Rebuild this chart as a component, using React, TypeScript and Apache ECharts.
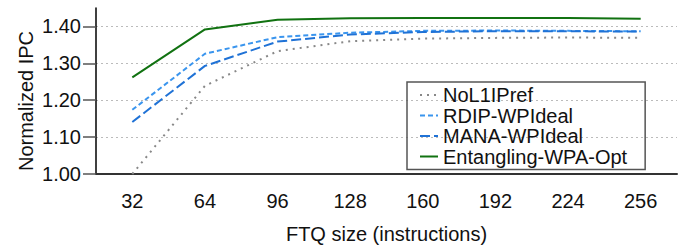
import React, { useEffect, useRef } from "react";
import * as echarts from "echarts";

const categories = ["32", "64", "96", "128", "160", "192", "224", "256"];
const noL1IPref = [1.0, 1.239, 1.333, 1.36, 1.367, 1.369, 1.37, 1.369];
const rdip = [1.174, 1.326, 1.371, 1.383, 1.388, 1.389, 1.388, 1.387];
const mana = [1.141, 1.293, 1.359, 1.378, 1.385, 1.387, 1.387, 1.386];
const entangling = [1.262, 1.392, 1.418, 1.422, 1.423, 1.423, 1.423, 1.421];
const yTicks = [1.0, 1.1, 1.2, 1.3, 1.4];
const yTitle = "Normalized IPC";

export default function App() {
  const ref = useRef<HTMLDivElement>(null);
  useEffect(() => {
    if (!ref.current) return;
    const chart = echarts.init(ref.current, undefined, { renderer: "svg" });
    const font = "Liberation Sans, Arial, sans-serif";
    chart.setOption({
      animation: false,
      grid: { left: 96, right: 6, top: 8, bottom: 73 },
      graphic: [
        {
          type: "text",
          x: 26,
          y: 101,
          rotation: Math.PI / 2,
          style: {
            text: yTitle,
            fontSize: 20,
            fontFamily: font,
            fill: "#111",
            textAlign: "center",
            textVerticalAlign: "middle",
          },
        },
      ],
      xAxis: {
        type: "category",
        data: categories,
        boundaryGap: true,
        name: "FTQ size (instructions)",
        nameLocation: "middle",
        nameGap: 50,
        nameTextStyle: { fontSize: 20, color: "#111", fontFamily: font },
        axisLine: { lineStyle: { color: "#333", width: 2 } },
        axisTick: { alignWithLabel: true, length: 13, lineStyle: { color: "#444", width: 1.5 } },
        axisLabel: { fontSize: 20, color: "#111", margin: 17, fontFamily: font },
        splitLine: { show: false },
      },
      yAxis: {
        type: "value",
        min: 1.0,
        max: 1.45,
        axisLine: { show: true, lineStyle: { color: "#000", width: 1.5 } },
        axisTick: { show: true, length: 13, customValues: yTicks, lineStyle: { color: "#555", width: 1.5 } },
        axisLabel: {
          fontSize: 20,
          color: "#111",
          margin: 15,
          fontFamily: font,
          customValues: yTicks,
          formatter: (v: number) => v.toFixed(2),
        },
        splitLine: { show: true, lineStyle: { color: "#bbb", width: 1, type: [2, 3] } },
      },
      legend: {
        orient: "vertical",
        left: 407,
        top: 82,
        padding: [3, 18, 3, 12],
        borderColor: "#555",
        borderWidth: 1.5,
        itemWidth: 18,
        itemHeight: 10,
        itemGap: 0.5,
        itemStyle: { opacity: 0 },
        textStyle: { fontSize: 20, color: "#111", fontFamily: font, lineHeight: 20 },
        data: ["NoL1IPref", "RDIP-WPIdeal", "MANA-WPIdeal", "Entangling-WPA-Opt"],
      },
      series: [
        {
          name: "NoL1IPref",
          type: "line",
          data: noL1IPref,
          symbol: "none",
          lineStyle: { color: "#888", width: 2, type: [2, 5] },
          itemStyle: { color: "#888" },
        },
        {
          name: "RDIP-WPIdeal",
          type: "line",
          data: rdip,
          symbol: "none",
          lineStyle: { color: "#3a95ee", width: 2, type: [5, 3] },
          itemStyle: { color: "#3a95ee" },
        },
        {
          name: "MANA-WPIdeal",
          type: "line",
          data: mana,
          symbol: "none",
          lineStyle: { color: "#1f72d6", width: 2, type: [10, 4] },
          itemStyle: { color: "#1f72d6" },
        },
        {
          name: "Entangling-WPA-Opt",
          type: "line",
          data: entangling,
          symbol: "none",
          lineStyle: { color: "#117211", width: 2 },
          itemStyle: { color: "#117211" },
        },
      ],
    });
    return () => chart.dispose();
  }, []);
  return (
    <div
      ref={ref}
      style={{ position: "absolute", left: 0, top: 0, width: 683, height: 249 }}
    />
  );
}
